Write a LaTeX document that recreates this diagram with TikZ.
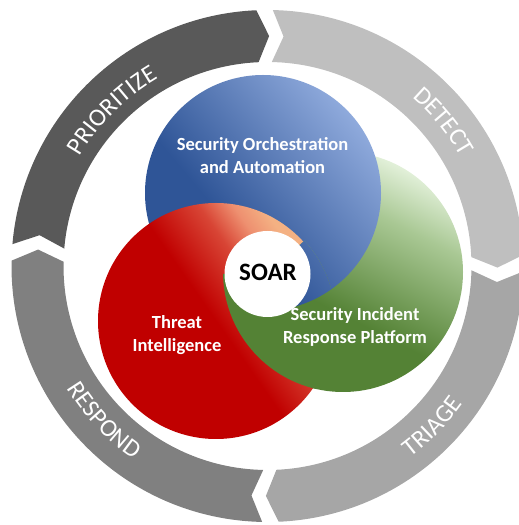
\documentclass[tikz,border=0pt]{standalone}
\usepackage{fontspec}
\setmainfont{Carlito}
\usetikzlibrary{decorations.text}
\definecolor{cPri}{HTML}{595959}
\definecolor{cDet}{HTML}{BFBFBF}
\definecolor{cTri}{HTML}{A6A6A6}
\definecolor{cRes}{HTML}{808080}
\definecolor{bDark}{HTML}{2F5597}
\definecolor{bLight}{HTML}{8FAADC}
\definecolor{gDark}{HTML}{548235}
\definecolor{gMid}{HTML}{A9C894}
\definecolor{gLight}{HTML}{E2F0D9}
\definecolor{rDark}{HTML}{C00000}
\definecolor{rMid}{HTML}{D84535}
\definecolor{rMidB}{HTML}{EE9070}
\definecolor{rLight}{HTML}{F4B183}
\pgfdeclareverticalshading{blueSh}{100bp}{color(0bp)=(bDark); color(25bp)=(bDark); color(40bp)=(bDark); color(75bp)=(bLight); color(100bp)=(bLight)}
\pgfdeclareverticalshading{greenSh}{100bp}{color(0bp)=(gDark); color(25bp)=(gDark); color(42bp)=(gDark); color(64bp)=(gMid); color(75bp)=(gLight); color(100bp)=(gLight)}
\pgfdeclareverticalshading{redSh}{100bp}{color(0bp)=(rDark); color(25bp)=(rDark); color(50bp)=(rDark); color(61bp)=(rMid); color(67bp)=(rMidB); color(72bp)=(rLight); color(100bp)=(rLight)}
\newcommand\ringfnt{\fontsize{25}{30}\selectfont\color{white}}
\newcommand\ringseg[3]{%
  \fill[#3] ({#1-1.2}:256pt) arc[start angle={#1-1.2}, end angle={#2+2.5}, radius=256pt]
    -- ({#2-0.4}:230pt) -- ({#2+2.5}:204pt)
    arc[start angle={#2+2.5}, end angle={#1-1.2}, radius=204pt]
    -- ({#1-4}:230pt) -- cycle;}
\newcommand\blueC{\shade[shading=blueSh, shading angle=-50] (263,332) circle[radius=118pt];}
\newcommand\greenC{\shade[shading=greenSh, shading angle=-27] (343,253) circle[radius=120pt];}
\newcommand\redC{\shade[shading=redSh, shading angle=-55] (216,204) circle[radius=118pt];}
\newcommand\redClip{\clip (216,204) circle[radius=119.5pt];}
\tikzset{
  circtext/.style={text=white, font=\bfseries\fontsize{18.5}{23}\selectfont, align=center},
  ringtext/.style={color=white, decorate, decoration={text along path, text align=center, text={|\ringfnt|#1}}},
}
\begin{document}
\begin{tikzpicture}[x=1pt, y=1pt]
\useasboundingbox (0,0) rectangle (519,525);
% ring
\begin{scope}[shift={(267.5,259)}]
  \ringseg{176.3}{90}{cPri}
  \ringseg{90}{0}{cDet}
  \ringseg{0}{-90}{cTri}
  \ringseg{-90}{-183.7}{cRes}
  \path[ringtext=PRIORITIZE] (170:217pt) arc[start angle=170, end angle=100, radius=217pt];
  \path[ringtext=DETECT] (74.4:222pt) arc[start angle=74.4, end angle=4.4, radius=222pt];
  \path[ringtext=TRIAGE] (-79.2:239pt) arc[start angle=-79.2, end angle=-9.2, radius=239pt];
  \path[ringtext=RESPOND] (-171.7:235pt) arc[start angle=-171.7, end angle=-101.7, radius=235pt];
\end{scope}
% circles: base order (red on top)
\greenC\blueC\redC
% green over red in the lower and right part
\begin{scope}
  \redClip
  \clip[shift={(267.5,251)}] (0,0) -- (180:300pt) -- (225:300pt) -- (270:300pt) -- (315:300pt) -- (0:300pt) -- (42:300pt) -- cycle;
  \greenC
\end{scope}
% blue over red and green on the right
\begin{scope}
  \redClip
  \clip[shift={(267.5,251)}] (0,0) -- (270:300pt) -- (315:300pt) -- (0:300pt) -- (42:300pt) -- cycle;
  \blueC
\end{scope}
\node[circle, fill=white, minimum size=86pt, inner sep=0pt] (hub) at (267.5,251) {};
\node[font=\bfseries\fontsize{25}{30}\selectfont, text=black] (soar) at (268,253) {SOAR};
\node[circtext] (so) at (262.5,369) {Security Orchestration\\and Automation};
\node[circtext] (sirp) at (355,198.5) {Security Incident\\Response Platform};
\node[circtext] (ti) at (177,190) {Threat\\Intelligence};
\end{tikzpicture}
\end{document}
